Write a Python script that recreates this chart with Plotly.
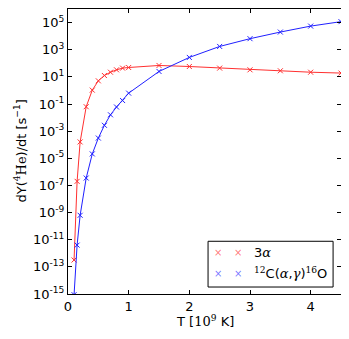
import plotly.graph_objects as go

# temperature grid, T9 = T / 1e9 K
T9 = [0.1, 0.15, 0.2, 0.3, 0.4, 0.5, 0.6, 0.7, 0.8, 0.9, 1.0, 1.5, 2.0, 2.5, 3.0, 3.5, 4.0, 4.5]

# dY(4He)/dt [1/s] for the two reactions
rate_3a = [3.2e-13, 2.0e-7, 1.6e-4, 6.3e-2, 1.05, 5.1, 12.6, 22, 33, 44, 49,
           69, 58, 44, 33, 28, 22, 19]
rate_c12ag = [8.9e-16, 4.0e-12, 6.3e-10, 3.5e-7, 2.1e-5, 3.1e-4, 2.7e-3, 1.6e-2,
              6.0e-2, 0.18, 0.63, 25, 270, 1740, 6500, 2.0e4, 5.5e4, 1.17e5]

ytick_exp = [5, 3, 1, -1, -3, -5, -7, -9, -11, -13, -15]
xtick_vals = [0, 1, 2, 3, 4]

SERIF = "font-family:'DejaVu Serif'"
label_3a = "3<span style=\"%s;font-style:italic\">α</span>" % SERIF
label_c12 = ("<span style=\"%s\"><sup>12</sup></span>C(<span style=\"%s;font-style:italic\">α</span>,"
             "<span style=\"%s;font-style:italic\">γ</span>)<span style=\"%s\"><sup>16</sup></span>O"
             % (SERIF, SERIF, SERIF, SERIF))

fig = go.Figure()
fig.add_trace(go.Scatter(x=T9, y=rate_3a, mode="lines+markers", name="3a",
                         line=dict(color="#ff3030", width=1),
                         marker=dict(symbol="x-thin", size=5, line=dict(color="#ff3030", width=1))))
fig.add_trace(go.Scatter(x=T9, y=rate_c12ag, mode="lines+markers", name="c12ag",
                         line=dict(color="#2020ff", width=1),
                         marker=dict(symbol="x-thin", size=5, line=dict(color="#2020ff", width=1))))

axis_common = dict(showline=True, linecolor="black", linewidth=1, mirror="ticks",
                   ticks="inside", ticklen=4, tickcolor="black", showgrid=False,
                   zeroline=False, automargin=False,
                   tickfont=dict(family="DejaVu Sans", size=13, color="black"))

# page body has an 8px margin, so the figure is a bit smaller than the window
fig.update_layout(
    width=341, height=331,
    margin=dict(l=60, r=8, t=1, b=45),
    plot_bgcolor="white", paper_bgcolor="white",
    showlegend=False,
    font=dict(family="DejaVu Sans", size=13, color="black"),
    xaxis=dict(range=[0, 4.5], tickvals=xtick_vals, **axis_common),
    yaxis=dict(type="log", range=[-15, 6],
               tickvals=[10.0 ** e for e in ytick_exp],
               ticktext=["10<sup>%d</sup>" % e for e in ytick_exp],
               **axis_common),
)

# axis titles
fig.add_annotation(text="T [<span style=\"%s\">10<sup>9</sup></span> K]" % SERIF,
                   xref="paper", yref="paper", x=0.5, y=0, yshift=-27,
                   showarrow=False, font=dict(size=13), yanchor="middle")
fig.add_annotation(text="dY(<span style=\"%s\"><sup>4</sup>He</span>)/dt [s<sup>−1</sup>]" % SERIF,
                   xref="paper", yref="paper", x=0, y=0.5, xshift=-48, textangle=-90,
                   showarrow=False, font=dict(size=13), xanchor="center")

# legend box drawn by hand (two markers per entry, like the original)
fig.add_shape(type="rect", xref="paper", yref="paper", x0=0.513, x1=0.971, y0=0.0245, y1=0.185,
              line=dict(color="black", width=1), fillcolor="white", layer="above")
for ypos, col, lab in [(0.144, "rgba(255,0,0,0.55)", label_3a), (0.072, "rgba(0,0,255,0.55)", label_c12)]:
    for xpos in (0.550, 0.621):
        fig.add_annotation(text="×", xref="paper", yref="paper", x=xpos, y=ypos, showarrow=False,
                           font=dict(size=10, color=col), xanchor="center", yanchor="middle")
    fig.add_annotation(text=lab, xref="paper", yref="paper", x=0.675, y=ypos, showarrow=False,
                       font=dict(size=13), xanchor="left", yanchor="middle")

fig.write_html("out.html")
